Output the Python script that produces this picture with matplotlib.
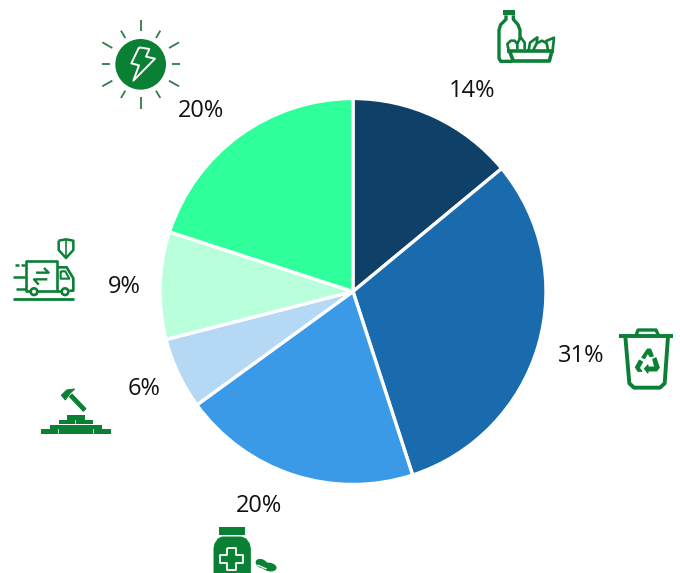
import numpy as np
import matplotlib
matplotlib.use("Agg")
import matplotlib.pyplot as plt
from matplotlib.patches import Circle, Polygon, Rectangle, FancyBboxPatch, Ellipse

plt.rcParams["font.family"] = ["Open Sans", "DejaVu Sans"]

shares = [14, 31, 20, 6, 9, 20]
labels = ["14%", "31%", "20%", "6%", "9%", "20%"]
colors = ["#0F4068", "#1A6BAD", "#3A9AE8", "#B5D8F5", "#B9FFDC", "#2EFF9B"]
label_x = [472, 581, 259, 144, 124, 201]
label_y = [91, 356, 506, 389, 287, 111]

GREEN = "#0A8035"
W, H = 680, 573
CX, CY, R = 353, 291.5, 193

fig = plt.figure(figsize=(W / 100, H / 100), dpi=100)

# pie axes, placed so the circle sits on the same pixels as the reference
ax = fig.add_axes([(CX - R) / W, 1 - (CY + R) / H, 2 * R / W, 2 * R / H])
ax.pie(shares, colors=colors, startangle=90, counterclock=False, radius=1,
       wedgeprops={"edgecolor": "white", "linewidth": 2.4})
ax.set_xlim(-1, 1)
ax.set_ylim(-1, 1)

# overlay in pixel coordinates for labels and icons
ov = fig.add_axes([0, 0, 1, 1])
ov.set_xlim(0, W)
ov.set_ylim(H, 0)
ov.axis("off")

for x, y, t in zip(label_x, label_y, labels):
    ov.text(x, y, t, fontsize=17, color="#111111", ha="center", va="center")


# the helpers take coordinates measured on 3x crops, with crop origin (ox, oy)
def line(ox, oy, pts, lw=2.2, color=GREEN):
    p = np.array(pts, dtype=float) / 3 + [ox, oy]
    ov.plot(p[:, 0], p[:, 1], color=color, lw=lw, solid_capstyle="butt", solid_joinstyle="round")


def poly(ox, oy, pts, color=GREEN, lw=0.7):
    p = np.array(pts, dtype=float) / 3 + [ox, oy]
    ov.add_patch(Polygon(p, closed=True, facecolor=color, edgecolor=color, linewidth=lw))


def rect(ox, oy, x0, y0, x1, y1, color=GREEN):
    ov.add_patch(Rectangle((ox + x0 / 3, oy + y0 / 3), (x1 - x0) / 3, (y1 - y0) / 3,
                           facecolor=color, edgecolor="none"))


# food: bottle and basket
ox, oy = 480, 0
rect(ox, oy, 70, 30, 106, 46)
line(ox, oy, [[78, 46], [78, 58], [62, 74], [57, 90], [57, 175], [62, 184], [98, 184]], lw=2.4)
line(ox, oy, [[100, 46], [100, 58], [114, 74], [120, 90], [120, 118]], lw=2.4)
line(ox, oy, [[80, 152], [222, 152]], lw=2.6)
line(ox, oy, [[88, 152], [100, 183], [208, 183], [216, 152]], lw=2.6)
line(ox, oy, [[86, 150], [82, 132], [92, 122], [104, 122], [112, 132], [112, 148]], lw=1.9)
line(ox, oy, [[112, 130], [122, 112], [134, 128], [134, 148]], lw=1.9)
line(ox, oy, [[146, 150], [150, 128], [172, 112], [170, 130], [160, 150]], lw=1.9)
line(ox, oy, [[170, 130], [186, 122], [200, 130], [204, 150]], lw=1.9)
line(ox, oy, [[196, 124], [222, 113], [218, 150]], lw=1.9)

# energy: sun with a bolt
ox, oy = 90, 10
ov.add_patch(Circle((ox + 152 / 3, oy + 163 / 3), 76 / 3, facecolor=GREEN, edgecolor="none"))
rays = [[[152, 30], [152, 64]], [[93, 62], [106, 84]], [[211, 62], [198, 84]],
        [[37, 97], [67, 114]], [[267, 97], [237, 114]], [[35, 163], [60, 163]],
        [[245, 163], [270, 163]], [[37, 229], [67, 212]], [[267, 229], [237, 212]],
        [[93, 264], [106, 242]], [[211, 264], [198, 242]], [[152, 262], [152, 296]]]
for r in rays:
    line(ox, oy, r, lw=1.3, color="#2F7A4C")
line(ox, oy, [[147, 112], [178, 117], [168, 140], [195, 146], [130, 212], [147, 166], [124, 160], [147, 112]],
     lw=1.4, color="white")

# logistics: truck and shield
ox, oy = 0, 230
line(ox, oy, [[176, 32], [198, 28], [220, 32], [220, 60], [198, 84], [176, 60], [176, 32]], lw=1.8)
line(ox, oy, [[198, 30], [198, 84]], lw=1.2)
line(ox, oy, [[92, 182], [78, 182], [78, 94], [172, 94], [172, 182], [112, 182]], lw=1.9)
line(ox, oy, [[172, 112], [200, 112], [220, 145], [220, 182], [208, 182]], lw=1.9)
line(ox, oy, [[172, 182], [184, 182]], lw=1.9)
line(ox, oy, [[182, 124], [196, 124], [208, 146], [182, 146], [182, 124]], lw=1.5)
for cx in (102, 195):
    ov.add_patch(Circle((ox + cx / 3, oy + 185 / 3), 10 / 3, facecolor="white", edgecolor=GREEN, linewidth=1.9))
line(ox, oy, [[40, 207], [222, 207]], lw=2.0)
line(ox, oy, [[46, 104], [56, 104]], lw=1.8)
line(ox, oy, [[62, 104], [74, 104]], lw=1.8)
line(ox, oy, [[38, 140], [76, 140]], lw=1.8)
line(ox, oy, [[48, 176], [78, 176]], lw=1.8)
line(ox, oy, [[108, 128], [146, 128], [132, 114]], lw=1.7)
line(ox, oy, [[142, 148], [102, 148], [116, 164]], lw=1.7)

# construction: hammer on bricks
ox, oy = 30, 380
poly(ox, oy, [[94, 46], [110, 30], [134, 27], [120, 40], [106, 60]])
poly(ox, oy, [[118, 50], [126, 42], [168, 86], [160, 94]])
rows = [(112, 164, 106, 119), (86, 190, 120, 133), (60, 216, 134, 147), (33, 243, 148, 161)]
for x0, x1, y0, y1 in rows:
    rect(ox, oy, x0, y0, x1, y1)
for xs, y0, y1 in [((137,), 120, 133), ((111, 165), 134, 147), ((85, 138, 191), 148, 161)]:
    for x in xs:
        rect(ox, oy, x - 1, y0, x + 1, y1, color="#B5D8BF")

# medicine: jar and pills, cut by the bottom edge
ox, oy = 200, 515
rect(ox, oy, 56, 35, 134, 60)
poly(ox, oy, [[66, 66], [124, 66], [138, 72], [148, 86], [151, 100], [151, 174], [42, 174], [42, 100], [45, 86],
              [54, 72]])
line(ox, oy, [[82, 100], [108, 100], [108, 120], [130, 120], [130, 145], [108, 145], [108, 166],
              [82, 166], [82, 145], [60, 145], [60, 120], [82, 120], [82, 100]], lw=1.3, color="white")
ov.add_patch(Ellipse((ox + 185 / 3, oy + 146 / 3), 38 / 3, 26 / 3, angle=25, facecolor=GREEN, edgecolor="none"))
ov.add_patch(Ellipse((ox + 208 / 3, oy + 156 / 3), 44 / 3, 26 / 3, angle=10, facecolor=GREEN, edgecolor="none"))
line(ox, oy, [[172, 150], [200, 162]], lw=0.9, color="white")

# recycling: bin with arrows
ox, oy = 610, 320
line(ox, oy, [[28, 47], [190, 47]], lw=2.8)
line(ox, oy, [[78, 47], [84, 30], [138, 30], [146, 47]], lw=2.4)
line(ox, oy, [[46, 50], [58, 190], [72, 203], [150, 203], [164, 190], [174, 50]], lw=2.8)
poly(ox, oy, [[95, 112], [112, 87], [122, 87], [130, 108], [120, 110], [113, 100], [104, 116]])
poly(ox, oy, [[128, 118], [138, 113], [148, 143], [140, 153], [114, 153], [114, 160], [103, 146],
              [114, 134], [114, 141], [134, 141]])
poly(ox, oy, [[76, 142], [88, 120], [98, 126], [88, 144], [96, 154], [84, 154]])

fig.savefig("out.png", dpi=100)
